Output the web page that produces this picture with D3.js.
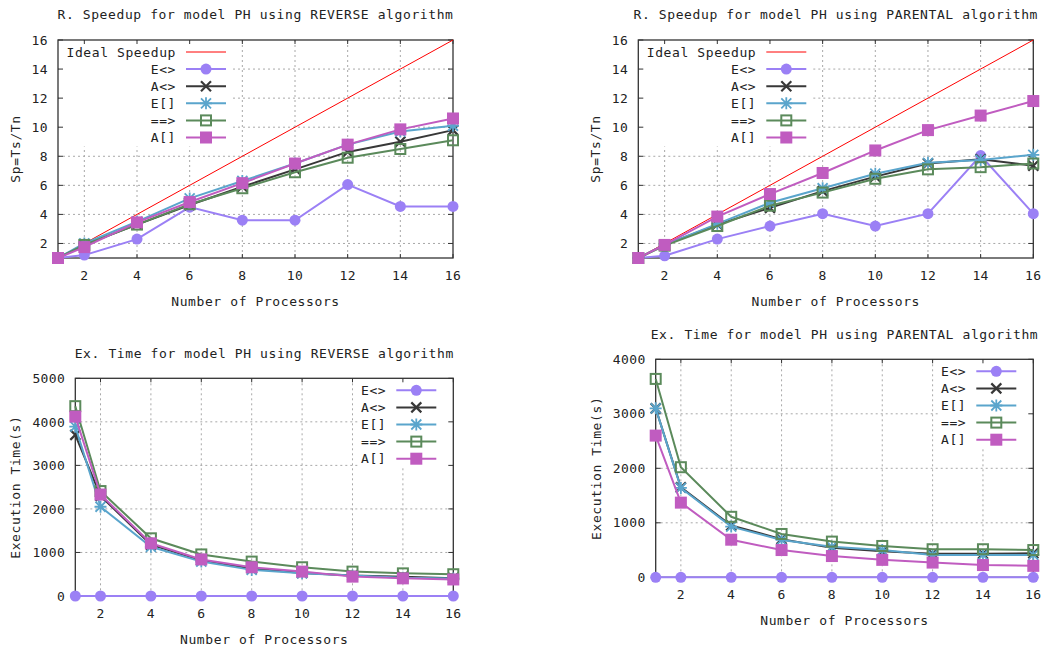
<!DOCTYPE html>
<html>
<head>
<meta charset="utf-8">
<script src="https://cdn.jsdelivr.net/npm/d3@7"></script>
<style>
  body { margin: 0; background: #fff; }
  text { font-family: "DejaVu Sans Mono", monospace; font-size: 13px; fill: #222; }
</style>
</head>
<body>
<div id="chart"></div>
<script>
// number of processors (x values)
const procs = [1, 2, 4, 6, 8, 10, 12, 14, 16];
const seriesNames = ["E<>", "A<>", "E[]", "==>", "A[]"];
const idealSpeedup = [1, 2, 4, 6, 8, 10, 12, 14, 16];

// speedup, REVERSE
const revSpeedupEF = [1, 1.2, 2.3, 4.5, 3.6, 3.6, 6.05, 4.55, 4.55];
const revSpeedupAF = [1, 1.9, 3.3, 4.65, 5.9, 7.1, 8.3, 9.0, 9.8];
const revSpeedupEG = [1, 2.0, 3.5, 5.1, 6.3, 7.5, 8.8, 9.7, 10.1];
const revSpeedupImp = [1, 1.9, 3.3, 4.7, 5.8, 6.9, 7.9, 8.5, 9.1];
const revSpeedupAG = [1, 1.75, 3.45, 4.85, 6.15, 7.5, 8.8, 9.85, 10.6];

// speedup, PARENTAL
const parSpeedupEF = [1, 1.15, 2.3, 3.2, 4.05, 3.2, 4.05, 8.05, 4.05];
const parSpeedupAF = [1, 1.9, 3.3, 4.45, 5.6, 6.6, 7.5, 7.8, 7.35];
const parSpeedupEG = [1, 1.9, 3.35, 4.8, 5.8, 6.8, 7.55, 7.75, 8.1];
const parSpeedupImp = [1, 1.85, 3.2, 4.6, 5.5, 6.45, 7.1, 7.25, 7.5];
const parSpeedupAG = [1, 1.9, 3.85, 5.4, 6.85, 8.4, 9.8, 10.8, 11.8];

// execution time (s), REVERSE
const revTimeEF = [0, 0, 0, 0, 0, 0, 0, 0, 0];
const revTimeAF = [3700, 2300, 1180, 820, 630, 530, 470, 440, 410];
const revTimeEG = [3890, 2050, 1130, 790, 600, 520, 470, 420, 400];
const revTimeImp = [4360, 2410, 1325, 955, 790, 660, 560, 520, 500];
const revTimeAG = [4120, 2330, 1210, 840, 660, 560, 445, 405, 380];

// execution time (s), PARENTAL
const parTimeEF = [0, 0, 0, 0, 0, 0, 0, 0, 0];
const parTimeAF = [3100, 1650, 950, 700, 540, 480, 430, 430, 440];
const parTimeEG = [3100, 1640, 930, 685, 560, 500, 410, 410, 410];
const parTimeImp = [3640, 2020, 1110, 795, 655, 575, 515, 515, 500];
const parTimeAG = [2600, 1370, 690, 500, 390, 320, 270, 225, 210];

const xTicks = [2, 4, 6, 8, 10, 12, 14, 16];
const speedupTicks = [2, 4, 6, 8, 10, 12, 14, 16];
const revTimeTicks = [0, 1000, 2000, 3000, 4000, 5000];
const parTimeTicks = [0, 1000, 2000, 3000, 4000];

const colors = ["#9b80f5", "#383838", "#5aa5cc", "#5b8a5b", "#c05cc0"];
const markers = ["circle", "cross", "star", "openSquare", "square"];

const svg = d3.select("#chart")
  .append("svg")
    .attr("width", 1051)
    .attr("height", 650);

function drawMarker(g, type, cx, cy, color) {
  if (type === "circle") {
    g.append("circle").attr("cx", cx).attr("cy", cy).attr("r", 5.5).attr("fill", color);
  } else if (type === "square") {
    g.append("rect").attr("x", cx - 6).attr("y", cy - 6).attr("width", 12).attr("height", 12).attr("fill", color);
  } else if (type === "openSquare") {
    g.append("rect").attr("x", cx - 5).attr("y", cy - 5).attr("width", 10).attr("height", 10)
      .attr("fill", "none").attr("stroke", color).attr("stroke-width", 2);
  } else if (type === "cross") {
    g.append("path").attr("d", `M${cx-5},${cy-5}L${cx+5},${cy+5}M${cx-5},${cy+5}L${cx+5},${cy-5}`)
      .attr("stroke", color).attr("stroke-width", 2.2);
  } else if (type === "star") {
    g.append("path").attr("d", `M${cx-5},${cy-5}L${cx+5},${cy+5}M${cx-5},${cy+5}L${cx+5},${cy-5}M${cx-6},${cy}L${cx+6},${cy}M${cx},${cy-6}L${cx},${cy+6}`)
      .attr("stroke", color).attr("stroke-width", 1.8);
  }
}

function drawPanel(p) {
  const x = d3.scaleLinear().domain([1, 16]).range([p.left, p.right]);
  const y = d3.scaleLinear().domain(p.yDomain).range([p.bottom, p.top]);
  const g = svg.append("g");

  // grid
  g.selectAll(".gx").data(xTicks.slice(0, -1)).join("line")
    .attr("x1", d => x(d)).attr("x2", d => x(d))
    .attr("y1", p.top).attr("y2", p.bottom)
    .attr("stroke", "#a8a8a8").attr("stroke-dasharray", "2,3");
  g.selectAll(".gy").data(p.yTicks.filter(t => t > p.yDomain[0] && t < p.yDomain[1])).join("line")
    .attr("x1", p.left).attr("x2", p.right)
    .attr("y1", d => y(d)).attr("y2", d => y(d))
    .attr("stroke", "#a8a8a8").attr("stroke-dasharray", "2,3");

  // legend geometry
  const lineStart = p.legendLeft ? p.left + 128 : p.right - 57;
  const lineEnd = lineStart + 40;
  const rows = (p.ideal ? ["Ideal Speedup"] : []).concat(seriesNames);
  const rowY = i => p.top + 12 + i * 17.1;
  const boxLeft = p.legendLeft ? p.left + 1 : lineStart - 37;
  const boxRight = p.legendLeft ? lineEnd + 6 : p.right - 1;
  g.append("rect")
    .attr("x", boxLeft).attr("y", p.top + 1)
    .attr("width", boxRight - boxLeft).attr("height", rowY(rows.length - 1) + 9 - p.top - 1)
    .attr("fill", "#fff");

  // axes box and ticks
  g.append("rect")
    .attr("x", p.left).attr("y", p.top)
    .attr("width", p.right - p.left).attr("height", p.bottom - p.top)
    .attr("fill", "none").attr("stroke", "#333").attr("stroke-width", 1.3);
  xTicks.forEach(t => {
    g.append("path").attr("d", `M${x(t)},${p.bottom}v-4M${x(t)},${p.top}v4`).attr("stroke", "#333");
    g.append("text").attr("x", x(t)).attr("y", p.bottom + 22)
      .attr("text-anchor", "middle").style("letter-spacing", "0.4px").text(t);
  });
  p.yTicks.forEach(t => {
    g.append("path").attr("d", `M${p.left},${y(t)}h5M${p.right},${y(t)}h-5`).attr("stroke", "#333");
    g.append("text").attr("x", p.left - 10).attr("y", y(t)).attr("dy", "0.36em")
      .attr("text-anchor", "end").style("letter-spacing", "0.4px").text(t);
  });

  // titles
  const cx = (p.left + p.right) / 2;
  g.append("text").attr("x", cx).attr("y", p.titleY)
    .attr("text-anchor", "middle").style("letter-spacing", "0.6px").text(p.title);
  g.append("text").attr("x", cx).attr("y", p.bottom + 48)
    .attr("text-anchor", "middle").style("letter-spacing", "0.6px").text("Number of Processors");
  g.append("text")
    .attr("transform", `translate(${p.yLabelX},${(p.top + p.bottom) / 2}) rotate(-90)`)
    .attr("text-anchor", "middle").style("letter-spacing", "0.6px").text(p.yLabel);

  // ideal speedup line
  let row = 0;
  if (p.ideal) {
    g.append("path")
      .datum(procs.map((d, i) => [d, idealSpeedup[i]]))
      .attr("fill", "none").attr("stroke", "#ff0000").attr("stroke-width", 1)
      .attr("d", d3.line().x(d => x(d[0])).y(d => y(d[1])));
    g.append("line").attr("x1", lineStart).attr("x2", lineEnd)
      .attr("y1", rowY(0)).attr("y2", rowY(0)).attr("stroke", "#ff0000");
    g.append("text").attr("x", lineStart - 10).attr("y", rowY(0)).attr("dy", "0.36em")
      .attr("text-anchor", "end").style("letter-spacing", "0.6px").text("Ideal Speedup");
    row = 1;
  }

  // series
  p.series.forEach((vals, k) => {
    const pts = procs.map((d, i) => [d, vals[i]]);
    g.append("path").datum(pts)
      .attr("fill", "none").attr("stroke", colors[k]).attr("stroke-width", 2)
      .attr("d", d3.line().x(d => x(d[0])).y(d => y(d[1])));
    pts.forEach(d => drawMarker(g, markers[k], x(d[0]), y(d[1]), colors[k]));

    const ly = rowY(row + k);
    g.append("line").attr("x1", lineStart).attr("x2", lineEnd)
      .attr("y1", ly).attr("y2", ly).attr("stroke", colors[k]).attr("stroke-width", 2);
    drawMarker(g, markers[k], (lineStart + lineEnd) / 2, ly, colors[k]);
    g.append("text").attr("x", lineStart - 10).attr("y", ly).attr("dy", "0.36em")
      .attr("text-anchor", "end").style("letter-spacing", "0.6px").text(seriesNames[k]);
  });
}

drawPanel({
  left: 58, right: 453, top: 40, bottom: 258,
  yDomain: [1, 16], yTicks: speedupTicks, ideal: true, legendLeft: true,
  title: "R. Speedup for model PH using REVERSE algorithm", titleY: 19,
  yLabel: "Sp=Ts/Tn", yLabelX: 20,
  series: [revSpeedupEF, revSpeedupAF, revSpeedupEG, revSpeedupImp, revSpeedupAG]
});

drawPanel({
  left: 638.3, right: 1033.3, top: 40, bottom: 258,
  yDomain: [1, 16], yTicks: speedupTicks, ideal: true, legendLeft: true,
  title: "R. Speedup for model PH using PARENTAL algorithm", titleY: 19,
  yLabel: "Sp=Ts/Tn", yLabelX: 600,
  series: [parSpeedupEF, parSpeedupAF, parSpeedupEG, parSpeedupImp, parSpeedupAG]
});

drawPanel({
  left: 75.3, right: 453.3, top: 378.3, bottom: 596,
  yDomain: [0, 5000], yTicks: revTimeTicks, ideal: false, legendLeft: false,
  title: "Ex. Time for model PH using REVERSE algorithm", titleY: 358,
  yLabel: "Execution Time(s)", yLabelX: 20,
  series: [revTimeEF, revTimeAF, revTimeEG, revTimeImp, revTimeAG]
});

drawPanel({
  left: 655.7, right: 1033.3, top: 359.3, bottom: 577.3,
  yDomain: [0, 4000], yTicks: parTimeTicks, ideal: false, legendLeft: false,
  title: "Ex. Time for model PH using PARENTAL algorithm", titleY: 339,
  yLabel: "Execution Time(s)", yLabelX: 601,
  series: [parTimeEF, parTimeAF, parTimeEG, parTimeImp, parTimeAG]
});
</script>
</body>
</html>
